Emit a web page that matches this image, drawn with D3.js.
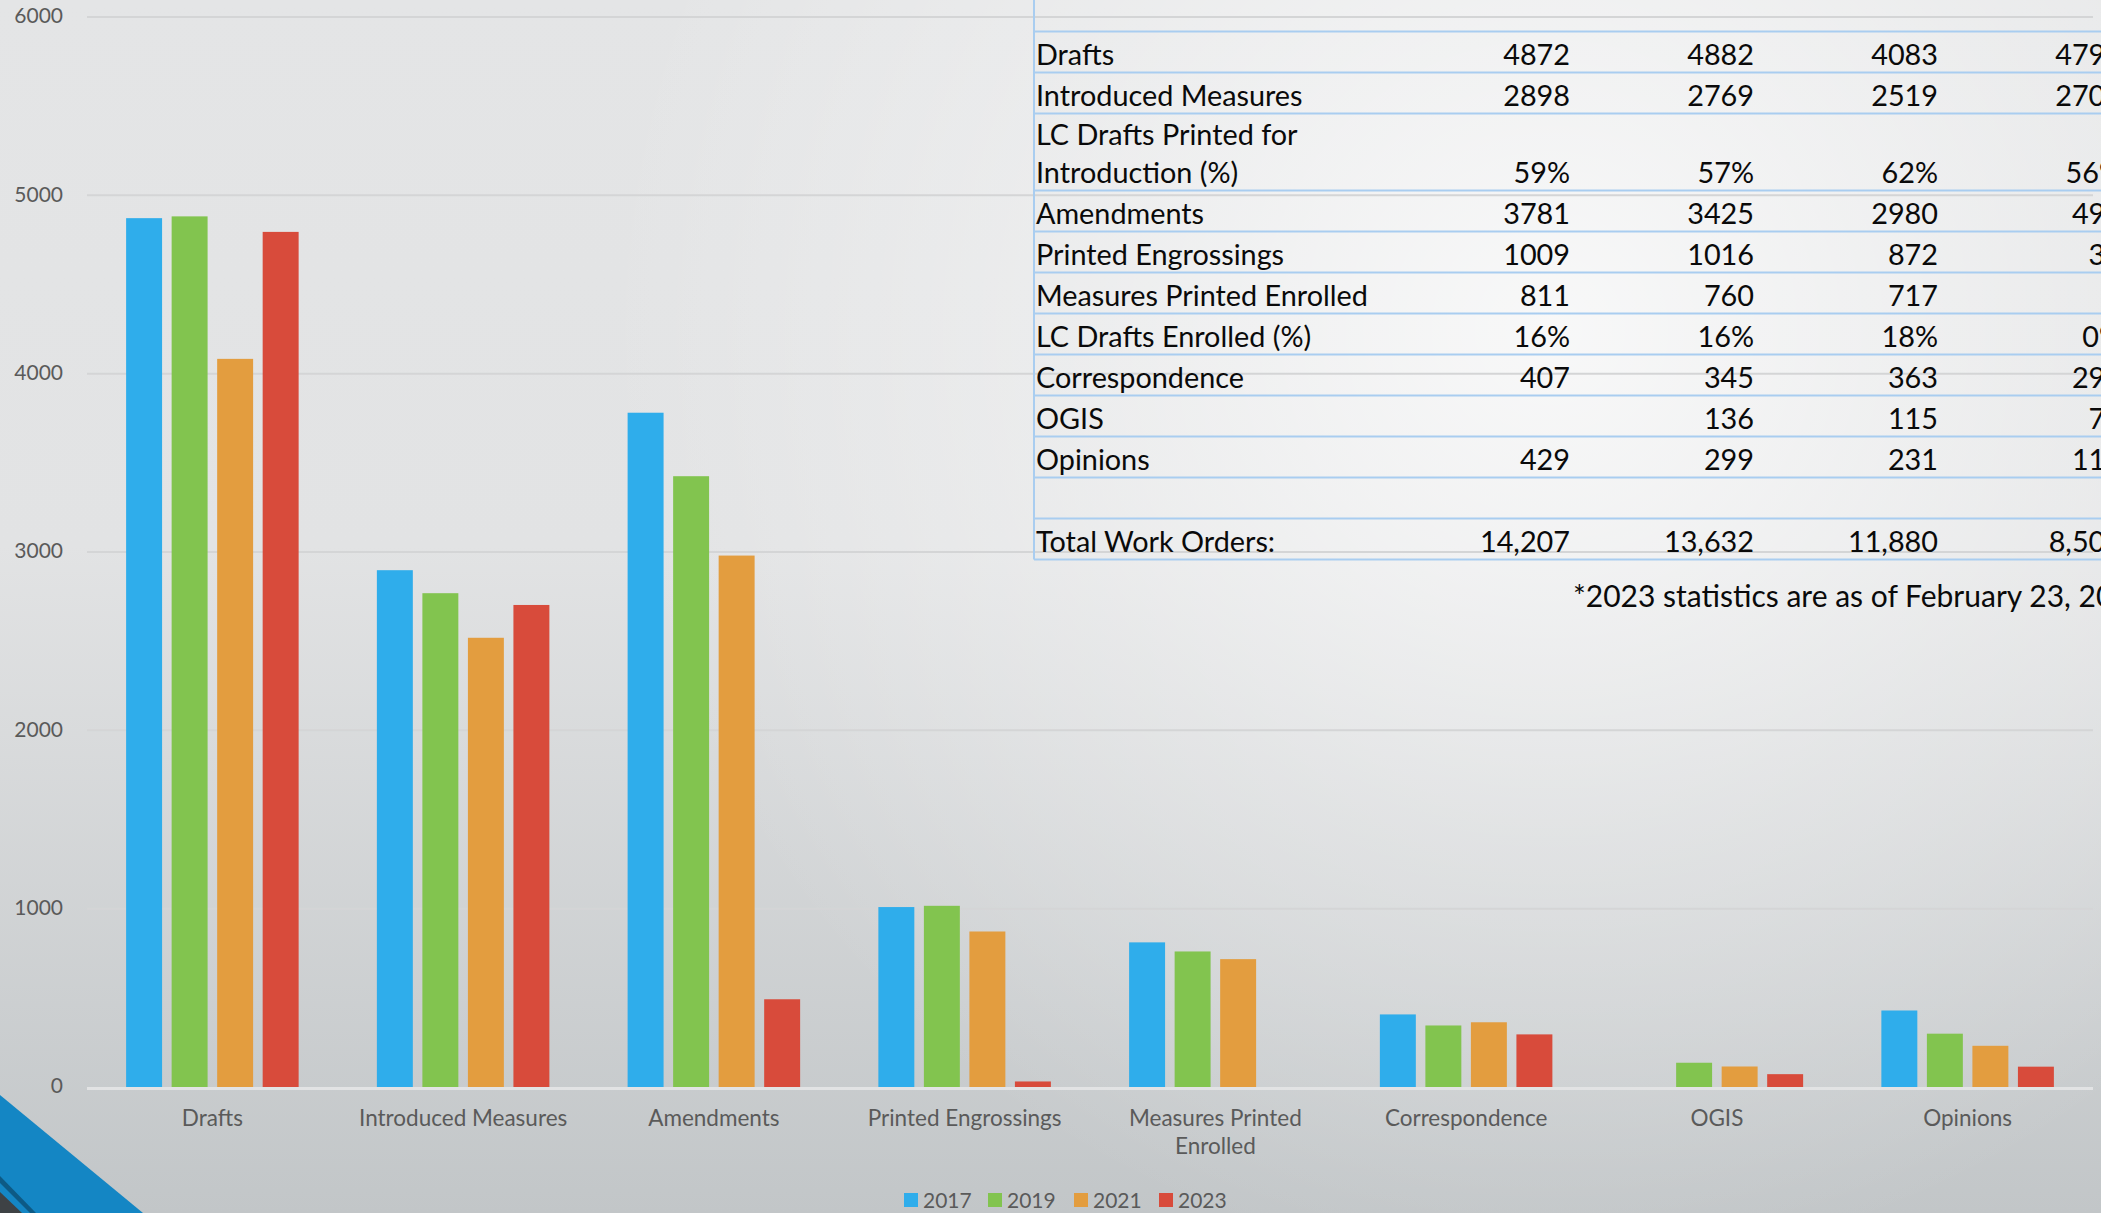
<!DOCTYPE html>
<html>
<head>
<meta charset="utf-8">
<script src="https://cdn.jsdelivr.net/npm/d3@7"></script>
<style>
  html, body { margin: 0; padding: 0; overflow: hidden; }
  body { width: 2101px; height: 1213px; }
</style>
</head>
<body>
<div id="viz"></div>
<script>
// chart data
const categories = ["Drafts", "Introduced Measures", "Amendments", "Printed Engrossings",
  "Measures Printed Enrolled", "Correspondence", "OGIS", "Opinions"];
const years = ["2017", "2019", "2021", "2023"];
const v2017 = [4872, 2898, 3781, 1009, 811, 407, 0, 429];
const v2019 = [4882, 2769, 3425, 1016, 760, 345, 136, 299];
const v2021 = [4083, 2519, 2980, 872, 717, 363, 115, 231];
const v2023 = [4795, 2703, 492, 31, 0, 295, 72, 114];
const yTicks = [0, 1000, 2000, 3000, 4000, 5000, 6000];
const colors = ["#2fadeb", "#82c44f", "#e39d3f", "#d84b3b"];

// table text
const tableLabels = ["Drafts", "Introduced Measures", "LC Drafts Printed for|Introduction (%)",
  "Amendments", "Printed Engrossings", "Measures Printed Enrolled", "LC Drafts Enrolled (%)",
  "Correspondence", "OGIS", "Opinions", "", "Total Work Orders:"];
const t2017 = ["4872", "2898", "59%", "3781", "1009", "811", "16%", "407", "", "429", "", "14,207"];
const t2019 = ["4882", "2769", "57%", "3425", "1016", "760", "16%", "345", "136", "299", "", "13,632"];
const t2021 = ["4083", "2519", "62%", "2980", "872", "717", "18%", "363", "115", "231", "", "11,880"];
const t2023 = ["4795", "2703", "56%", "492", "31", "0", "0%", "295", "72", "114", "", "8,502"];
const footnote = "*2023 statistics are as of February 23, 2023";

const W = 2101, H = 1213;
const svg = d3.select("#viz").append("svg")
  .attr("width", W)
  .attr("height", H);

const defs = svg.append("defs");
const lin = defs.append("linearGradient").attr("id", "bg").attr("x1", 0).attr("y1", 0).attr("x2", 0).attr("y2", 1);
lin.append("stop").attr("offset", "0%").attr("stop-color", "#e4e5e6");
lin.append("stop").attr("offset", "45%").attr("stop-color", "#e2e3e4");
lin.append("stop").attr("offset", "100%").attr("stop-color", "#c2c6c8");
const rad = defs.append("radialGradient").attr("id", "glow")
  .attr("gradientUnits", "userSpaceOnUse")
  .attr("cx", 1550).attr("cy", 330).attr("r", 950);
rad.append("stop").attr("offset", "0%").attr("stop-color", "#ffffff").attr("stop-opacity", 0.75);
rad.append("stop").attr("offset", "55%").attr("stop-color", "#ffffff").attr("stop-opacity", 0.3);
rad.append("stop").attr("offset", "100%").attr("stop-color", "#ffffff").attr("stop-opacity", 0);

svg.append("rect").attr("width", W).attr("height", H).attr("fill", "url(#bg)");
svg.append("rect").attr("width", W).attr("height", H).attr("fill", "url(#glow)");

// scales
const x0 = d3.scaleBand().domain(categories).range([87, 2093]).paddingInner(0.312).paddingOuter(0.156);
const x1 = d3.scaleBand().domain(years).range([0, x0.bandwidth()]).paddingInner(0.21);
const y = d3.scaleLinear().domain([0, 6000]).range([1087, 17]);

// gridlines
svg.append("g").selectAll("line")
  .data(yTicks.filter(d => d > 0))
  .enter().append("line")
  .attr("x1", 87).attr("x2", 2093)
  .attr("y1", d => y(d)).attr("y2", d => y(d))
  .attr("stroke", "#d4d5d6").attr("stroke-width", 2);

// y labels
svg.append("g").selectAll("text")
  .data(yTicks)
  .enter().append("text")
  .attr("x", 63)
  .attr("y", d => y(d) + 1)
  .attr("text-anchor", "end")
  .attr("dominant-baseline", "middle")
  .style("font-family", "Lato, 'Open Sans', sans-serif")
  .style("font-size", "21px")
  .style("fill", "#5a5a5a")
  .text(d => d);

// bars
const series = [v2017, v2019, v2021, v2023];
series.forEach((vals, si) => {
  svg.append("g").selectAll("rect")
    .data(categories.map((c, i) => ({ c, v: vals[i] })).filter(d => d.v > 0))
    .enter().append("rect")
    .attr("x", d => x0(d.c) + x1(years[si]))
    .attr("y", d => y(d.v))
    .attr("width", x1.bandwidth())
    .attr("height", d => y(0) - y(d.v))
    .attr("fill", colors[si]);
});

// baseline
svg.append("line")
  .attr("x1", 87).attr("x2", 2093)
  .attr("y1", y(0) + 1.5).attr("y2", y(0) + 1.5)
  .attr("stroke", "#e2e3e4").attr("stroke-width", 3);

// category labels
const catG = svg.append("g");
categories.forEach(c => {
  const lines = c === "Measures Printed Enrolled" ? ["Measures Printed", "Enrolled"] : [c];
  lines.forEach((ln, i) => {
    catG.append("text")
      .attr("x", x0(c) + x0.bandwidth() / 2)
      .attr("y", 1126 + i * 28)
      .attr("text-anchor", "middle")
      .style("font-family", "Lato, 'Open Sans', sans-serif")
      .style("font-size", "22.5px")
      .style("fill", "#5a5a5a")
      .text(ln);
  });
});

// legend
const legX = [904, 988, 1074, 1159];
years.forEach((yr, i) => {
  svg.append("rect")
    .attr("x", legX[i]).attr("y", 1193)
    .attr("width", 14).attr("height", 14)
    .attr("fill", colors[i]);
  svg.append("text")
    .attr("x", legX[i] + 19).attr("y", 1208)
    .style("font-family", "Lato, 'Open Sans', sans-serif")
    .style("font-size", "21px")
    .style("fill", "#5a5a5a")
    .text(yr);
});

// table
const rowH = tableLabels.map(l => l.includes("|") ? 77 : 41);
const rowTop = [31.5];
rowH.forEach((h, i) => rowTop.push(rowTop[i] + h));
const colRight = [1570, 1754, 1938, 2122];
const tbl = svg.append("g");
rowTop.forEach(t => {
  tbl.append("line")
    .attr("x1", 1034).attr("x2", W)
    .attr("y1", t).attr("y2", t)
    .attr("stroke", "#a9cdf0").attr("stroke-width", 2);
});
tbl.append("line")
  .attr("x1", 1034).attr("x2", 1034)
  .attr("y1", 0).attr("y2", rowTop[rowTop.length - 1])
  .attr("stroke", "#a9cdf0").attr("stroke-width", 2);

const tFont = "Lato, Carlito, 'Open Sans', sans-serif";
const cols = [t2017, t2019, t2021, t2023];
tableLabels.forEach((lab, i) => {
  const base = rowTop[i + 1] - 8;
  const parts = lab.split("|");
  parts.forEach((p, k) => {
    tbl.append("text")
      .attr("x", 1036)
      .attr("y", base - (parts.length - 1 - k) * 38)
      .style("font-family", tFont)
      .style("font-size", "28.8px")
      .style("fill", "#0a0a0a")
      .text(p);
  });
  cols.forEach((col, ci) => {
    tbl.append("text")
      .attr("x", colRight[ci])
      .attr("y", base)
      .attr("text-anchor", "end")
      .style("font-family", tFont)
      .style("font-size", "28.8px")
      .style("fill", "#0a0a0a")
      .text(col[i]);
  });
});

svg.append("text")
  .attr("x", 1573).attr("y", 607)
  .style("font-family", tFont)
  .style("font-size", "30px")
  .style("fill", "#0a0a0a")
  .text(footnote);

// corner decoration
svg.append("path")
  .attr("d", "M0,1095 L143,1213 L0,1213 Z")
  .attr("fill", "#1486c4");
svg.append("path")
  .attr("d", "M0,1176 L36,1213 L30,1213 L0,1183 Z")
  .attr("fill", "#0d5a85");
svg.append("path")
  .attr("d", "M0,1192 L22,1213 L0,1213 Z")
  .attr("fill", "#3e4245");
</script>
</body>
</html>
